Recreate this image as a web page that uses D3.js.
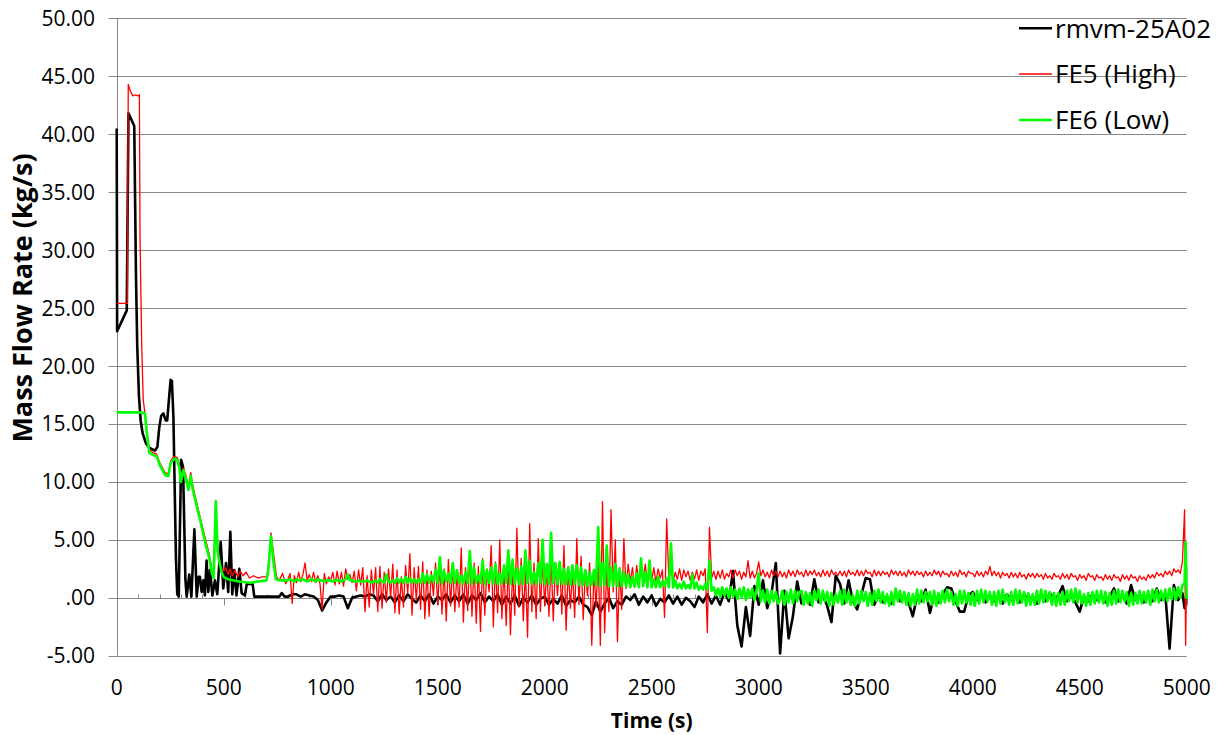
<!DOCTYPE html>
<html>
<head>
<meta charset="utf-8">
<script src="https://cdn.jsdelivr.net/npm/d3@7"></script>
<style>
  body { margin: 0; background: #fff; }
  text { font-family: "Open Sans", "Liberation Sans", sans-serif; fill: #000; }
</style>
</head>
<body>
<script>
// ---- data ----
const seriesNames = ["rmvm-25A02", "FE5 (High)", "FE6 (Low)"];
const seriesColors = ["#000000", "#ff0000", "#00ff00"];

const xTicks = [0, 500, 1000, 1500, 2000, 2500, 3000, 3500, 4000, 4500, 5000];
const xTickLabels = ["0", "500", "1000", "1500", "2000", "2500", "3000", "3500", "4000", "4500", "5000"];
const yTicks = [-5, 0, 5, 10, 15, 20, 25, 30, 35, 40, 45, 50];
const yTickLabels = ["-5.00", ".00", "5.00", "10.00", "15.00", "20.00", "25.00", "30.00", "35.00", "40.00", "45.00", "50.00"];

// start-up transient, [time (s), kg/s]
const rmvmEarly = [[0,40.5],[2,23.0],[47,24.8],[55,41.8],[82,40.7],[90,27.9],[96,21.7],[104,17.4],[112,15.3],[121,14.2],
  [137,13.3],[156,12.9],[179,12.7],[190,13.0],[199,14.7],[208,15.7],[218,15.9],[229,15.3],[236,15.3],[244,17.1],
  [252,18.8],[258,18.7],[265,15.6],[271,9.4],[277,3.3],[283,0.3],[290,0.1],[301,11.9],[310,11.3],[321,1.6],
  [327,0.1],[339,2.0],[349,0.1],[363,5.9],[374,0.1],[383,1.8],[389,1.8],[397,0.5],[405,1.5],[412,0.2],
  [420,3.2],[428,0.5],[436,2.4],[447,0.2],[459,1.5],[470,0.3],[486,4.8],[498,0.8],[511,3.0],[521,0.5],
  [531,5.7],[540,0.3],[549,2.4],[560,0.2],[573,2.5],[584,0.4],[599,0.2],[608,1.2],[635,1.2],[643,0.1],
  [700,0.1],[760,0.1],[771,0.4],[785,0.1]];
const fe5Early = [[0,25.4],[50,25.4],[54,44.3],[62,43.8],[75,43.3],[85,43.4],[100,43.3],[106,43.4],[109,31.0],[117,21.7],
  [124,17.1],[132,15.9],[140,14.3],[152,12.8],[171,12.5],[187,12.4],[202,11.6],[226,10.8],[241,10.7],[252,11.8],
  [268,12.2],[283,12.1],[293,11.5],[300,10.3],[311,11.2],[324,10.5],[335,9.6],[346,10.8],[355,9.7],[374,8.2],
  [389,7.0],[413,5.2],[433,3.7],[444,2.6],[453,2.0],[463,8.4],[472,4.2],[486,2.6],[500,2.3],[510,2.6],
  [520,2.0],[530,2.5],[540,1.9],[552,2.4],[565,1.8],[578,2.3],[590,1.9],[605,2.2],[620,1.7],[640,1.9],
  [660,1.7],[680,1.8],[700,1.8],[708,2.5],[721,5.6],[735,3.5],[747,1.8],[760,1.5],[775,2.1],[790,1.2]];
const fe6Early = [[0,16.0],[100,16.0],[132,15.9],[140,14.4],[152,12.5],[171,12.3],[187,12.2],[202,11.4],[226,10.6],[241,10.5],
  [252,11.6],[268,12.0],[283,11.9],[293,11.2],[300,10.0],[311,11.0],[324,10.2],[335,9.3],[346,10.5],[355,9.4],
  [374,7.9],[389,6.8],[413,4.8],[433,3.4],[444,2.2],[453,1.7],[463,8.3],[472,3.9],[481,3.0],[490,2.2],
  [500,1.8],[519,1.6],[573,1.4],[623,1.3],[660,1.4],[700,1.5],[708,2.3],[721,5.3],[733,3.0],[744,1.6],
  [760,1.5],[780,1.5]];

// rmvm-25A02: 800 s .. 4980 s, every 20 s
const times20 = d3.range(800, 4981, 20);
const rmvmGrid = [
  0.1, 0.3, 0.3, 0.1, 0.3, 0.2, 0.1, -0.2, -1.1, -0.4,
  0.1, 0.1, 0.2, 0.1, -0.9, 0.0, 0.1, 0.2, 0.1, 0.3,
  0.2, -0.3, 0.3, -0.2, 0.1, -0.4, 0.2, -0.3, 0.3, -0.1,
  -0.4, 0.2, -0.3, 0.3, -0.5, 0.1, -0.2, 0.3, -0.4, 0.2,
  -0.3, 0.3, -0.5, 0.2, -0.2, 0.4, -0.4, 0.1, -0.3, 0.3,
  -0.6, 0.1, -0.5, 0.2, -0.7, 0.0, -0.4, 0.2, -0.6, -0.1,
  0.1, -0.6, -0.1, -0.5, 0.2, -0.7, -0.2, -0.4, 0.1, -0.6,
  -0.8, -1.5, -0.3, -1.2, -0.5, 0.0, -0.9, -0.3, -0.6, 0.1,
  -0.2, 0.3, -0.6, 0.1, -0.4, 0.2, -0.7, -0.1, -0.4, 0.2,
  -0.5, 0.1, -0.6, 0.0, -0.3, -0.8, 0.1, -0.4, 0.3, -0.5,
  0.2, -0.6, 0.5, -0.3, 2.3, -2.4, -4.2, -0.8, -3.3, 1.0,
  -0.6, 1.5, -0.9, 0.4, 3.0, -4.8, 0.6, -3.5, -1.6, 1.4,
  -0.5, 0.3, -0.6, 1.6, -0.4, 0.2, -0.7, -2.1, 1.9, 1.2,
  -0.5, 1.5, -0.3, -1.0, 0.3, 1.7, 1.6, -0.6, 0.2, -0.4,
  0.1, -0.5, 0.3, -0.3, 0.2, -0.4, -1.6, 0.1, -0.3, 0.7,
  -1.3, 0.2, -0.4, 0.3, 0.9, 0.8, -0.3, -1.2, -1.2, 0.2,
  0.5, -0.2, 0.3, -0.4, 0.2, -0.3, 0.1, -0.5, 0.3, -0.2,
  0.2, -0.4, 0.3, -0.2, 0.1, -0.5, 0.2, -0.3, 0.4, -0.1,
  0.2, 1.0, -0.3, 0.2, -0.4, -1.2, 0.1, -0.3, 0.3, -0.2,
  0.2, -0.4, 0.1, 0.8, -0.3, 0.2, -0.5, 1.1, -0.2, 0.3,
  -0.4, 0.2, -0.3, 0.8, -0.2, 0.3, -4.4, 1.1, -0.2, 0.4];

// FE5 / FE6: 800 s .. 4990 s, every 10 s (one row = 100 s)
const times10 = d3.range(800, 4991, 10);
const fe5Grid = [
  1.6, 2.1, -0.5, 1.9, 1.3, 2.2, 1.4, 2.0, 3.0, 1.5,
  2.0, 1.4, 2.2, 1.3, 1.9, 1.2, -1.0, 2.1, 1.2, 1.8,
  1.5, 2.2, 1.1, 2.3, 1.2, 2.2, 1.0, 2.5, 1.6, 2.0,
  1.3, 2.3, 0.6, 2.4, 1.1, 2.6, -1.2, 1.9, -0.8, 2.4,
  0.3, 2.6, -1.2, 2.7, -0.9, 2.2, -0.4, 2.5, 0.1, 2.9,
  -1.3, 2.4, -1.4, 1.8, -0.8, 2.8, 0.4, 3.8, -1.5, 2.6,
  -0.2, 2.7, -1.0, 3.1, -1.8, 2.4, -1.6, 2.3, 0.2, 3.0,
  -0.6, 2.9, -1.4, 2.5, -2.0, 3.3, -0.7, 2.8, -1.2, 2.2,
  -0.8, 4.3, -2.1, 2.6, -1.1, 3.9, -1.6, 3.0, -2.2, 2.7,
  -2.9, 3.4, -1.5, 2.5, 0.5, 4.5, -2.5, 3.1, -1.3, 5.0,
  -1.8, 2.6, -2.4, 3.2, -3.2, 2.5, -1.5, 6.0, -0.8, 3.4,
  -2.0, 2.4, -3.4, 6.4, -1.2, 3.0, -1.8, 5.1, -1.2, 3.3,
  -0.7, 2.6, -1.6, 3.5, -2.0, 2.9, 0.2, 3.1, -1.4, 4.5,
  -2.8, 2.7, -0.9, 2.4, -1.7, 5.1, -0.6, 3.6, -1.9, 2.3,
  0.2, 3.0, -4.1, 2.3, -0.8, 3.4, -4.1, 8.3, -3.0, 2.6,
  -1.2, 7.6, 0.5, 5.0, -3.8, 2.6, -1.0, 5.1, 0.8, 2.9,
  1.4, 2.6, 0.9, 2.8, 1.2, 2.7, 1.6, 2.9, 1.1, 2.3,
  1.5, 2.6, 1.3, 2.5, 1.7, 2.4, -1.7, 6.8, 1.6, 2.5,
  1.4, 2.2, 1.6, 2.5, 1.5, 2.4, 1.8, 2.3, 1.5, 2.2,
  1.6, 2.4, 1.5, 2.3, 1.9, 2.5, -3.0, 6.1, 1.7, 2.3,
  1.6, 2.3, 1.7, 2.4, 1.6, 2.1, 1.8, 2.4, 1.7, 2.4,
  1.9, 2.3, 1.6, 2.2, 1.8, 3.2, 1.7, 2.3, 1.7, 2.1,
  3.1, 1.9, 2.4, 1.8, 2.2, 1.7, 2.4, 1.9, 2.3, 1.8,
  2.3, 1.8, 2.2, 1.7, 2.4, 1.9, 2.3, 1.8, 2.4, 2.0,
  2.2, 1.8, 2.4, 1.9, 2.3, 2.0, 2.4, 1.9, 2.2, 1.8,
  2.4, 1.9, 2.3, 1.8, 2.4, 2.0, 2.2, 1.9, 2.3, 1.9,
  2.3, 1.8, 2.4, 2.0, 2.2, 1.9, 2.4, 1.9, 2.3, 1.9,
  2.4, 2.1, 2.2, 1.8, 2.4, 1.9, 2.3, 1.9, 2.3, 2.0,
  2.2, 1.8, 2.4, 2.0, 2.3, 1.9, 2.3, 1.9, 2.2, 1.8,
  2.4, 2.0, 2.3, 1.9, 2.3, 2.0, 2.2, 1.8, 2.3, 1.9,
  2.2, 1.9, 2.4, 2.0, 2.3, 1.8, 2.3, 2.0, 2.1, 1.8,
  2.3, 1.9, 2.2, 1.8, 2.4, 2.0, 2.2, 1.8, 2.3, 2.1,
  2.1, 1.8, 2.3, 1.9, 2.2, 1.8, 2.3, 2.0, 2.7, 1.9,
  2.3, 1.9, 2.2, 1.7, 2.2, 1.9, 2.1, 1.7, 2.2, 1.8,
  2.1, 1.7, 2.2, 1.8, 2.0, 1.6, 2.1, 1.8, 2.1, 1.7,
  2.1, 1.8, 2.0, 1.6, 2.1, 1.7, 1.9, 1.6, 2.1, 1.8,
  1.9, 1.6, 2.1, 1.7, 2.0, 1.6, 2.1, 1.8, 1.9, 1.5,
  2.0, 1.7, 1.9, 1.5, 2.1, 1.8, 1.9, 1.5, 2.0, 1.7,
  1.8, 1.5, 2.0, 1.6, 1.9, 1.5, 2.0, 1.7, 1.8, 1.4,
  2.0, 1.6, 1.9, 1.5, 2.0, 1.7, 1.8, 1.4, 1.9, 1.6,
  1.8, 1.5, 2.0, 1.7, 2.0, 1.7, 2.2, 1.9, 2.1, 1.8,
  2.3, 2.0, 2.3, 1.9, 2.5, 2.2, 2.4, 2.1, 3.1, 7.6];
const fe6Grid = [
  1.5, 1.6, 1.5, 1.4, 1.6, 1.5, 1.5, 1.6, 1.5, 1.4,
  1.5, 1.6, 1.5, 1.4, 1.6, 1.5, 1.5, 1.4, 1.5, 1.5,
  1.5, 1.4, 1.5, 1.5, 1.5, 1.4, 1.5, 1.6, 2.0, 1.5,
  1.5, 1.4, 1.4, 1.5, 1.4, 1.4, 1.4, 1.5, 1.4, 1.3,
  1.4, 1.5, 1.3, 1.6, 1.4, 1.3, 2.0, 1.4, 1.3, 1.5,
  1.3, 1.7, 1.3, 1.6, 1.3, 1.8, 1.3, 1.7, 1.3, 1.6,
  1.3, 1.6, 1.3, 2.1, 1.3, 2.0, 1.3, 1.9, 1.4, 2.4,
  1.3, 3.5, 1.2, 2.3, 1.4, 2.1, 1.3, 3.0, 1.3, 2.4,
  1.3, 1.9, 1.2, 2.2, 1.3, 4.0, 1.2, 2.6, 1.3, 1.9,
  1.3, 3.2, 1.2, 2.4, 1.3, 2.6, 1.2, 2.9, 1.2, 2.1,
  1.2, 2.8, 1.3, 4.1, 1.2, 3.3, 1.2, 2.5, 1.2, 2.7,
  1.2, 4.1, 1.3, 3.2, 1.2, 2.2, 1.2, 3.0, 1.3, 5.0,
  1.2, 2.9, 1.2, 5.6, 1.3, 3.0, 1.2, 3.1, 1.2, 2.5,
  1.2, 2.6, 1.1, 2.8, 1.2, 2.8, 1.1, 2.6, 1.1, 2.4,
  1.0, 2.2, 1.1, 2.4, 1.1, 6.1, 1.0, 3.0, 1.1, 4.5,
  1.0, 2.6, 1.0, 2.9, 1.0, 2.5, 1.0, 2.2, 1.0, 2.0,
  0.9, 1.8, 1.0, 2.1, 0.9, 3.4, 1.0, 2.2, 0.9, 3.2,
  0.9, 1.6, 0.9, 1.8, 0.9, 1.4, 1.0, 1.7, 0.9, 4.7,
  0.9, 1.5, 0.8, 1.2, 0.8, 1.4, 0.8, 1.1, 0.8, 2.0,
  0.8, 1.3, 0.7, 1.0, 0.7, 1.2, 0.7, 3.2, 0.6, 0.9,
  0.2, 0.8, 0.1, 0.9, 0.2, 0.8, 0.0, 0.9, 0.1, 0.7,
  -0.1, 0.8, 0.0, 0.9, -0.2, 0.7, 0.0, 0.8, -0.2, 0.7,
  2.1, -0.3, 0.6, -0.4, 0.7, -0.5, 0.6, -0.3, 0.5, -0.5,
  -0.2, 0.6, -0.6, 0.5, -0.4, 0.7, -0.5, 0.6, -0.3, 0.5,
  0.6, -0.6, 0.5, -0.5, 0.4, -0.7, 0.6, -0.2, 0.7, -0.5,
  0.6, -0.3, 0.5, -0.7, 0.4, -0.6, 0.3, -0.4, 0.6, -0.6,
  0.7, -0.4, 0.5, -0.6, 0.2, -0.7, 0.6, -0.5, 0.6, -0.3,
  0.5, -0.7, 0.4, -0.6, 0.6, -0.3, 0.7, -0.4, 0.5, -0.5,
  0.3, -0.7, 0.5, -0.6, 0.8, -0.3, 0.6, -0.4, 0.5, -0.6,
  0.4, -0.7, 0.3, -0.6, 0.7, -0.5, 0.6, -0.4, 0.5, -0.3,
  0.5, -0.6, 0.6, -0.7, 0.4, -0.5, 0.6, -0.4, 0.7, -0.3,
  0.5, -0.6, 0.3, -0.7, 0.6, -0.5, 0.6, -0.4, 0.4, -0.6,
  0.4, -0.7, 0.6, -0.5, 0.7, -0.4, 0.6, -0.3, 0.5, -0.6,
  0.5, -0.7, 0.6, -0.5, 0.7, -0.4, 0.3, -0.6, 0.5, -0.6,
  0.7, -0.5, 0.6, -0.4, 0.5, -0.7, 0.4, -0.6, 0.3, -0.6,
  0.6, -0.5, 0.7, -0.4, 0.6, -0.3, 0.5, -0.6, 0.4, -0.7,
  0.4, -0.6, 0.5, -0.6, 0.6, -0.3, 0.7, -0.4, 0.8, -0.4,
  0.6, -0.5, 0.3, -0.7, 0.4, -0.6, 0.5, -0.5, 0.6, -0.4,
  0.6, -0.5, 0.5, -0.7, 0.4, -0.6, 0.6, -0.5, 0.7, -0.4,
  0.6, -0.3, 0.5, -0.7, 0.4, -0.6, 0.4, -0.5, 0.6, -0.5,
  0.5, -0.4, 0.6, -0.6, 0.7, -0.3, 0.7, -0.4, 0.6, -0.2,
  0.7, -0.3, 0.8, -0.1, 0.8, -0.2, 0.9, 0.0, 1.1, 1.2];

// last few seconds
const rmvmTail = [[4990,-0.9],[5000,0.3]];
const fe5Tail = [[4995,-4.1],[5000,2.7]];
const fe6Tail = [[4995,4.8],[5000,-0.1]];

// ---- chart ----
const width = 1222, height = 735;
const plotLeft = 116.7, plotRight = 1186.7, plotTop = 18.3, plotBottom = 655.7;

const svg = d3.select("body").append("svg")
  .attr("width", width)
  .attr("height", height);

const x = d3.scaleLinear().domain([0, 5000]).range([plotLeft, plotRight]);
const y = d3.scaleLinear().domain([-5, 50]).range([plotBottom, plotTop]);

// horizontal gridlines (with the little outside tick on the left)
svg.append("g").selectAll("line")
  .data(yTicks)
  .enter()
  .append("line")
  .attr("x1", plotLeft - 8)
  .attr("x2", plotRight)
  .attr("y1", d => Math.round(y(d)) + 0.5)
  .attr("y2", d => Math.round(y(d)) + 0.5)
  .attr("stroke", "#878787")
  .attr("stroke-width", 1);

// value axis line
svg.append("line")
  .attr("x1", Math.round(plotLeft) + 0.5)
  .attr("x2", Math.round(plotLeft) + 0.5)
  .attr("y1", plotTop)
  .attr("y2", plotBottom)
  .attr("stroke", "#878787");

// time axis ticks on the zero line: minor every 100 (up), major every 500 (down)
const y0 = Math.round(y(0)) + 0.5;
svg.append("g").selectAll("line")
  .data(d3.range(100, 5000, 100).filter(d => d % 500 !== 0))
  .enter()
  .append("line")
  .attr("x1", d => Math.round(x(d)) + 0.5)
  .attr("x2", d => Math.round(x(d)) + 0.5)
  .attr("y1", y0)
  .attr("y2", y0 - 4)
  .attr("stroke", "#878787");

svg.append("g").selectAll("line")
  .data(xTicks)
  .enter()
  .append("line")
  .attr("x1", d => Math.round(x(d)) + 0.5)
  .attr("x2", d => Math.round(x(d)) + 0.5)
  .attr("y1", y0)
  .attr("y2", y0 + 7)
  .attr("stroke", "#878787");

// y tick labels
svg.append("g").selectAll("text")
  .data(yTicks)
  .enter()
  .append("text")
  .attr("x", 95)
  .attr("y", d => y(d))
  .attr("dy", "0.36em")
  .attr("text-anchor", "end")
  .style("font-size", "21px")
  .text((d, i) => yTickLabels[i]);

// x tick labels
svg.append("g").selectAll("text")
  .data(xTicks)
  .enter()
  .append("text")
  .attr("x", d => x(d))
  .attr("y", 687)
  .attr("dy", "0.36em")
  .attr("text-anchor", "middle")
  .style("font-size", "21px")
  .text((d, i) => xTickLabels[i]);

// axis titles
svg.append("text")
  .attr("x", (plotLeft + plotRight) / 2)
  .attr("y", 720)
  .attr("dy", "0.36em")
  .attr("text-anchor", "middle")
  .style("font-size", "21px")
  .style("font-weight", "bold")
  .text("Time (s)");

svg.append("text")
  .attr("transform", "translate(22,298) rotate(-90)")
  .attr("dy", "0.36em")
  .attr("text-anchor", "middle")
  .style("font-size", "27px")
  .style("font-weight", "bold")
  .text("Mass Flow Rate (kg/s)");

// series
const series = [
  rmvmEarly.concat(times20.map((t, i) => [t, rmvmGrid[i]]), rmvmTail),
  fe5Early.concat(times10.map((t, i) => [t, fe5Grid[i]]), fe5Tail),
  fe6Early.concat(times10.map((t, i) => [t, fe6Grid[i]]), fe6Tail)
];
const widths = [2.6, 1.3, 2.6];

const line = d3.line()
  .x(d => x(d[0]))
  .y(d => y(d[1]));

svg.append("g").selectAll("path")
  .data(series)
  .enter()
  .append("path")
  .attr("d", line)
  .attr("fill", "none")
  .attr("stroke", (d, i) => seriesColors[i])
  .attr("stroke-width", (d, i) => widths[i])
  .attr("stroke-linejoin", "round");

// legend
const legend = svg.append("g");
const rowY = [28.3, 74, 120];

legend.selectAll("line")
  .data(seriesNames)
  .enter()
  .append("line")
  .attr("x1", 1019)
  .attr("x2", 1052)
  .attr("y1", (d, i) => rowY[i])
  .attr("y2", (d, i) => rowY[i])
  .attr("stroke", (d, i) => seriesColors[i])
  .attr("stroke-width", (d, i) => widths[i]);

legend.selectAll("text")
  .data(seriesNames)
  .enter()
  .append("text")
  .attr("x", 1055)
  .attr("y", (d, i) => rowY[i])
  .attr("dy", "0.36em")
  .style("font-size", "26px")
  .text(d => d);
</script>
</body>
</html>
